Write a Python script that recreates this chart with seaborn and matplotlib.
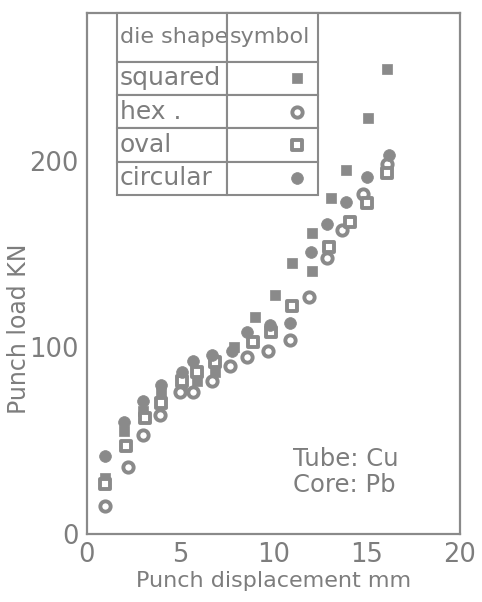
import numpy as np
import pandas as pd
import matplotlib
matplotlib.use("Agg")
import matplotlib.pyplot as plt
import seaborn as sns

# values (punch displacement mm, punch load kN)
squared_x = [1, 2, 3, 4, 5.1, 5.9, 6.9, 7.9, 9.0, 10.1, 11.0, 12.1, 12.1, 13.1, 13.9, 15.1, 16.1]
squared_y = [30, 55, 66, 76, 80, 82, 87, 100, 116, 128, 145, 141, 161, 180, 195, 223, 249]

hex_x = [1, 2.2, 3, 3.9, 5, 5.7, 6.7, 7.7, 8.6, 9.7, 10.9, 11.9, 12.9, 13.7, 14.8, 16.1]
hex_y = [15, 36, 53, 64, 76, 76, 82, 90, 95, 98, 104, 127, 148, 163, 182, 198]

oval_x = [1, 2.1, 3.1, 4, 5.1, 5.9, 6.9, 8.9, 9.9, 11.0, 13.0, 14.1, 15.0, 16.1]
oval_y = [27, 47, 62, 70, 82, 87, 92, 103, 108, 122, 154, 167, 177.5, 193.5]

circular_x = [1, 2, 3, 4, 5.1, 5.7, 6.7, 7.8, 8.6, 9.8, 10.9, 12.0, 12.9, 13.9, 15.0, 16.2]
circular_y = [42, 60, 71, 80, 87, 92.5, 96, 98, 108, 112, 113, 151, 166, 178, 191, 203]

shapes = ["squared", "hex .", "oval", "circular"]
x_ticks = [0, 5, 10, 15, 20]
y_ticks = [0, 100, 200]

ink = "#8a8a8a"
text_col = "#7d7d7d"

sns.set_theme(style="white")
plt.rcParams["font.family"] = ["DejaVu Sans"]

fig = plt.figure(figsize=(4.82, 6.02), dpi=100)
ax = fig.add_axes([0.180, 0.113, 0.774, 0.865])

# filled / hollow symbols like the hand-drawn chart
styles = {
    "squared": dict(marker="s", color=ink, edgecolor=ink, linewidth=0.5, s=60),
    "hex .": dict(marker="o", color="white", edgecolor=ink, linewidth=2.8, s=55),
    "oval": dict(marker="s", color="white", edgecolor=ink, linewidth=2.8, s=52),
    "circular": dict(marker="o", color=ink, edgecolor=ink, linewidth=0.5, s=72),
}
series = {
    "squared": (squared_x, squared_y),
    "hex .": (hex_x, hex_y),
    "oval": (oval_x, oval_y),
    "circular": (circular_x, circular_y),
}
for name, (xs, ys) in series.items():
    df = pd.DataFrame({"disp": xs, "load": ys})
    sns.scatterplot(data=df, x="disp", y="load", ax=ax, zorder=3, **styles[name])

ax.set_xlim(0, 20)
ax.set_ylim(0, 279)
ax.set_xticks(x_ticks)
ax.set_yticks(y_ticks)
ax.tick_params(direction="in", length=13, width=1.4, colors=ink,
               labelcolor=text_col, labelsize=18.5, pad=6)
for sp in ax.spines.values():
    sp.set_color(ink)
    sp.set_linewidth(1.6)
ax.set_xlabel("Punch displacement mm", fontsize=16, color=text_col, labelpad=2)
ax.set_ylabel("Punch load KN", fontsize=17, color=text_col)
ax.yaxis.set_label_coords(-0.15, 0.395)

ax.text(11.05, 40, "Tube: Cu", fontsize=17.5, color=text_col, va="center")
ax.text(11.05, 26, "Core: Pb", fontsize=17.5, color=text_col, va="center")

# the hand-drawn legend table
cell_text = [["die shape", "symbol"]] + [[s, ""] for s in shapes]
tbl = ax.table(cellText=cell_text, cellLoc="left", colWidths=[0.55, 0.45],
               bbox=[0.080, 0.651, 0.539, 0.349])
tbl.auto_set_font_size(False)
for (r, c), cell in tbl.get_celld().items():
    cell.set_edgecolor(ink)
    cell.set_linewidth(1.5)
    cell.get_text().set_color(text_col)
    cell.get_text().set_fontsize(16 if r == 0 else 18)
    cell.PAD = 0.03
    if r == 0:
        cell.set_height(cell.get_height() * 1.45)
tbl.set_zorder(4)

# symbols inside the table's right column
fig.canvas.draw()
row_edges = []
for r in range(1, 5):
    cell = tbl[r, 1]
    bb = cell.get_window_extent(fig.canvas.get_renderer())
    row_edges.append(bb)
inv = ax.transAxes.inverted()
for name, bb in zip(shapes, row_edges):
    cx, cy = inv.transform((bb.x1 - 0.23 * bb.width, (bb.y0 + bb.y1) / 2))
    ax.scatter([cx], [cy], transform=ax.transAxes, zorder=5, **styles[name])

fig.savefig("out.png", dpi=100, facecolor="white")
